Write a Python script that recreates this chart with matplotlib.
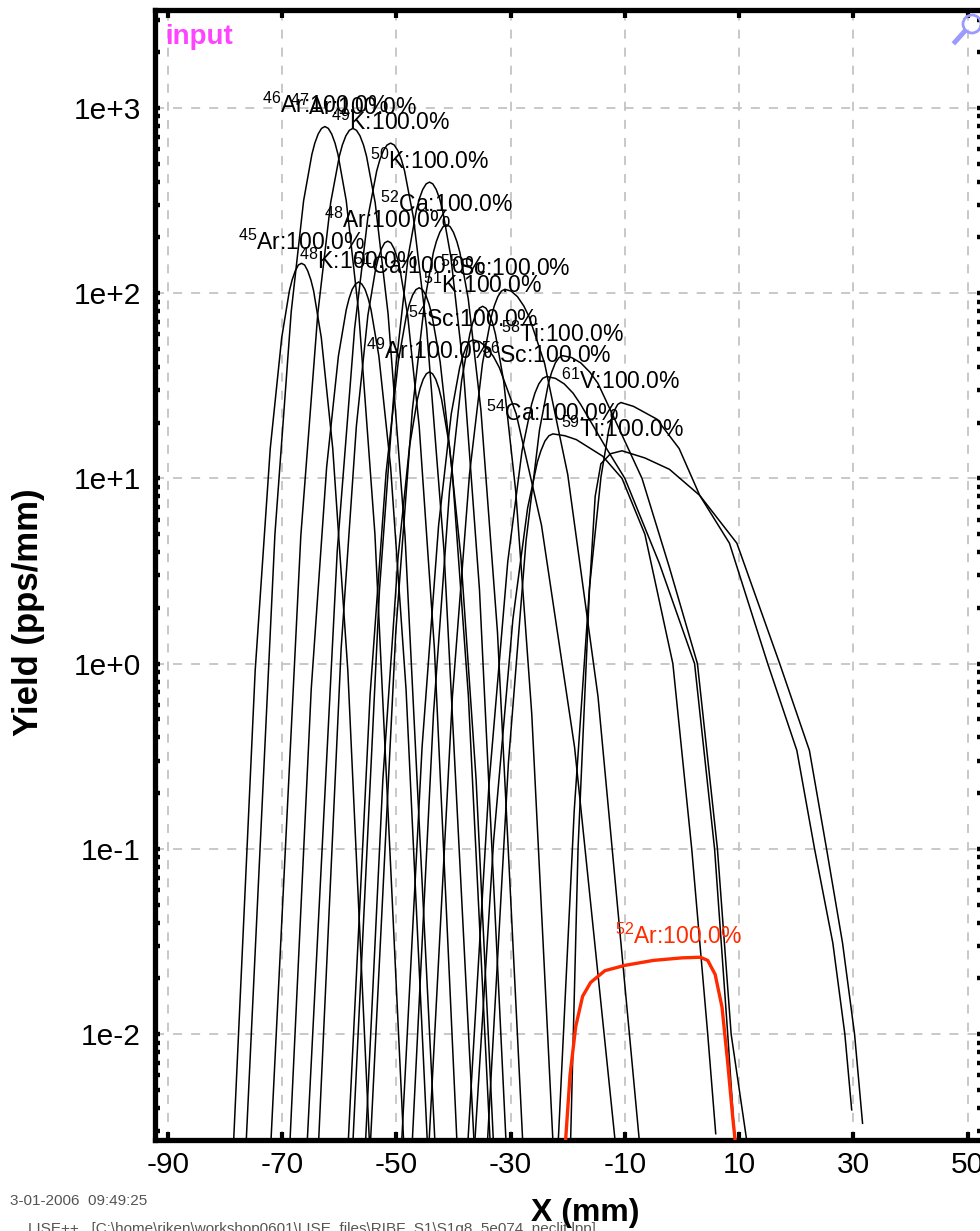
import matplotlib
matplotlib.use("Agg")
import matplotlib.pyplot as plt
from matplotlib.patches import Ellipse
from matplotlib.lines import Line2D
from matplotlib.ticker import LogLocator, NullFormatter

plt.rcParams['font.family'] = ['Liberation Sans', 'DejaVu Sans']
plt.rcParams['mathtext.fontset'] = 'custom'
plt.rcParams['mathtext.rm'] = 'Liberation Sans'
plt.rcParams['axes.unicode_minus'] = False

# fragment distributions at the focal plane: X (mm) vs yield (pps/mm)
X_45AR = [-78.66, -74.71, -72.07, -70.06, -68.72, -68.24, -67.69, -67.15, -66.6,
          -66.05, -65.51, -64.96, -64.48, -63.14, -61.13, -58.49, -54.54]
Y_45AR = [0.002, 0.915, 14.5, 57.7, 103, 118, 132, 142, 145, 142, 132, 118, 103, 57.7, 14.5, 0.915, 0.002]
X_46AR = [-76.46, -71.25, -68.4, -66.23, -64.78, -64.27, -63.68, -63.09, -62.5,
          -61.91, -61.32, -60.73, -60.22, -58.77, -56.6, -53.75, -48.54]
Y_46AR = [0.002, 5.01, 79.4, 316, 562, 646, 724, 776, 794, 776, 724, 646, 562, 316, 79.4, 5.01, 0.002]
X_47AR = [-72.14, -66.72, -63.75, -61.49, -59.98, -59.45, -58.83, -58.22, -57.6,
          -56.98, -56.37, -55.75, -55.22, -53.71, -51.45, -48.48, -43.06]
Y_47AR = [0.002, 4.9, 77.6, 309, 549, 631, 708, 758, 776, 758, 708, 631, 549, 309, 77.6, 4.9, 0.002]
X_48K = [-68.8, -64.9, -62.2, -60.14, -58.77, -58.28, -57.72, -57.16, -56.6,
         -56.04, -55.48, -54.92, -54.43, -53.06, -51.0, -48.3, -44.4]
Y_48K = [0.002, 0.726, 11.5, 45.8, 81.4, 93.5, 105, 112, 115, 112, 105, 93.5, 81.4, 45.8, 11.5, 0.726, 0.002]
X_49K = [-65.79, -60.34, -57.3, -54.98, -53.44, -52.89, -52.26, -51.63, -51.0,
         -50.37, -49.74, -49.11, -48.56, -47.02, -44.7, -41.66, -36.21]
Y_49K = [0.002, 4.08, 64.6, 257, 457, 525, 589, 631, 646, 631, 589, 525, 457, 257, 64.6, 4.08, 0.002]
X_48AR = [-63.78, -59.66, -57.0, -54.98, -53.63, -53.15, -52.6, -52.05, -51.5,
          -50.95, -50.4, -49.85, -49.37, -48.02, -46.0, -43.34, -39.22]
Y_48AR = [0.002, 1.21, 19.1, 76.0, 135, 155, 174, 187, 191, 187, 174, 155, 135, 76.0, 19.1, 1.21, 0.002]
X_50K = [-57.78, -52.95, -50.1, -47.93, -46.48, -45.97, -45.38, -44.79, -44.2,
         -43.61, -43.02, -42.43, -41.92, -40.47, -38.3, -35.45, -30.62]
Y_50K = [0.002, 2.51, 39.8, 158, 282, 324, 363, 389, 398, 389, 363, 324, 282, 158, 39.8, 2.51, 0.002]
X_52CA = [-54.71, -50.1, -47.2, -44.99, -43.52, -43.0, -42.4, -41.8, -41.2,
          -40.6, -40.0, -39.4, -38.88, -37.41, -35.2, -32.3, -27.69]
Y_52CA = [0.002, 1.48, 23.4, 93.1, 166, 190, 213, 229, 234, 229, 213, 190, 166, 93.1, 23.4, 1.48, 0.002]
X_49AR = [-55.57, -52.36, -49.7, -47.68, -46.33, -45.85, -45.3, -44.75, -44.2,
          -43.65, -43.1, -42.55, -42.07, -40.72, -38.7, -36.04, -32.83]
Y_49AR = [0.002, 0.237, 3.76, 15.0, 26.6, 30.6, 34.3, 36.7, 37.6, 36.7, 34.3, 30.6, 26.6, 15.0, 3.76, 0.237, 0.002]
X_51CA = [-58.6, -54.6, -51.8, -49.67, -48.24, -47.74, -47.16, -46.58, -46.0,
          -45.42, -44.84, -44.26, -43.76, -42.33, -40.2, -37.4, -33.4]
Y_51CA = [0.002, 0.675, 10.7, 42.6, 75.8, 87.0, 97.6, 104.5, 107, 104.5, 97.6, 87.0, 75.8, 42.6, 10.7, 0.675, 0.002]
X_51K = [-47.4, -43.5, -40.7, -38.57, -37.14, -36.64, -36.06, -35.48, -34.9,
         -34.32, -33.74, -33.16, -32.66, -31.23, -29.1, -26.3, -22.4]
Y_51K = [0.002, 0.536, 8.5, 33.8, 60.2, 69.1, 77.5, 83.0, 85, 83.0, 77.5, 69.1, 60.2, 33.8, 8.5, 0.536, 0.002]
X_55SC = [-44.47, -40.19, -37.2, -34.92, -33.4, -32.86, -32.24, -31.62, -31.0,
          -29.9, -28.8, -27.7, -26.74, -24.05, -20.0, -14.7, -7.1]
Y_55SC = [0.002, 0.663, 10.5, 41.8, 74.3, 85.4, 95.8, 102.6, 105, 102.6, 95.8, 85.4, 74.3, 41.8, 10.5, 0.663, 0.002]
X_54SC = [-49.26, -45.5, -42.6, -40.39, -38.92, -38.4, -37.8, -37.2, -36.6,
          -35.4, -34.2, -33.0, -31.96, -29.02, -24.6, -18.8, -11.3]
Y_54SC = [0.002, 0.353, 5.6, 22.3, 39.6, 45.5, 51.1, 54.7, 56, 54.7, 51.1, 45.5, 39.6, 22.3, 5.6, 0.353, 0.002]
X_58TI = [-34.26, -30.39, -27.3, -24.94, -23.38, -22.82, -22.18, -21.54, -20.9,
          -19.3, -17.7, -16.1, -14.71, -11.5, -7.0, -2.2, 2.7, 6.2, 8.6, 11.3]
Y_58TI = [0.002, 0.29, 4.6, 18.3, 32.6, 37.4, 42.0, 44.9, 46,
          44.9, 42.0, 37.4, 32.6, 20, 10, 3.3, 1.0, 0.1, 0.01, 0.0027]
X_56SC = [-37.7, -33.78, -30.5, -28.0, -26.33, -25.74, -25.06, -24.38, -23.7,
          -22.16, -20.62, -19.08, -17.74, -13.5, -10.0, -4.0, 2.2, 5.7, 8.0, 9.3]
Y_56SC = [0.002, 0.224, 3.55, 14.1, 25.1, 28.9, 32.4, 34.7, 35.5,
          34.7, 32.4, 28.9, 25.1, 15, 10, 3.5, 1.0, 0.1, 0.01, 0.0025]
X_54CA = [-36.5, -32.98, -29.6, -27.02, -25.31, -24.7, -24.0, -23.3, -22.6,
          -20.5, -18.5, -13.9, -10.5, -6.5, -1.6, 1.7, 4.5, 5.9]
Y_54CA = [0.002, 0.11, 1.74, 6.93, 12.3, 14.1, 15.9, 17.0, 17.4,
          17.0, 16.2, 13.2, 10, 5.0, 1.0, 0.1, 0.01, 0.0029]
X_61V = [-21.85, -18.86, -16.2, -14.18, -12.83, -12.35, -11.8, -11.25, -10.7,
         -8.5, -4.4, -0.5, 3.1, 8.3, 15.0, 20.1, 23.2, 26.4, 28.5, 29.7]
Y_61V = [0.002, 0.162, 2.57, 10.2, 18.2, 20.9, 23.4, 25.1, 25.7,
         24.5, 20.9, 14.5, 8.1, 4.47, 1.0, 0.34, 0.1, 0.031, 0.01, 0.0039]
X_59TI = [-19.6, -18.2, -17.2, -16.2, -15.2, -14.2, -12.5, -10.5, -6.5,
          -2.2, 3.1, 9.6, 17.1, 22.3, 25.3, 28.1, 30.2, 31.6]
Y_59TI = [0.002, 0.1, 0.5, 2.5, 8.0, 12.0, 13.6, 14.1, 12.9,
          11.2, 8.1, 4.47, 1.0, 0.34, 0.1, 0.031, 0.01, 0.0033]
X_52AR = [-20.4, -19.6, -18.6, -17.4, -16.0, -13.5, -10.0, -5.0, 0.0, 3.2, 4.5, 5.8, 7.0, 8.0, 8.9, 9.4]
Y_52AR = [0.0026, 0.006, 0.011, 0.016, 0.019, 0.022, 0.0235, 0.025, 0.0258, 0.026, 0.025, 0.021, 0.014, 0.007, 0.0035, 0.0025]

black_curves = [
    ("46", "Ar", X_46AR, Y_46AR), ("47", "Ar", X_47AR, Y_47AR),
    ("49", "K", X_49K, Y_49K), ("50", "K", X_50K, Y_50K),
    ("52", "Ca", X_52CA, Y_52CA), ("48", "Ar", X_48AR, Y_48AR),
    ("45", "Ar", X_45AR, Y_45AR), ("48", "K", X_48K, Y_48K),
    ("51", "Ca", X_51CA, Y_51CA), ("55", "Sc", X_55SC, Y_55SC),
    ("51", "K", X_51K, Y_51K), ("54", "Sc", X_54SC, Y_54SC),
    ("58", "Ti", X_58TI, Y_58TI), ("49", "Ar", X_49AR, Y_49AR),
    ("56", "Sc", X_56SC, Y_56SC), ("61", "V", X_61V, Y_61V),
    ("54", "Ca", X_54CA, Y_54CA), ("59", "Ti", X_59TI, Y_59TI),
]
red_curve = ("52", "Ar", X_52AR, Y_52AR)

X_TICKS = [-90, -70, -50, -30, -10, 10, 30, 50]
Y_TICKS = [1e-2, 1e-1, 1e0, 1e1, 1e2, 1e3]
Y_TICK_LABELS = ["1e-2", "1e-1", "1e+0", "1e+1", "1e+2", "1e+3"]

fig = plt.figure(figsize=(9.8, 12.31), dpi=100)
ax = fig.add_axes([0.158, 0.0739, 0.844, 0.918])


def draw_curve(mass, elem, xs, ys, color, lw, dx=0):
    ax.plot(xs, ys, color=color, lw=lw, zorder=3)
    i = max(range(len(ys)), key=lambda k: ys[k])
    ax.annotate(r"$\mathregular{^{%s}}$%s:100.0%%" % (mass, elem),
                xy=(xs[i], ys[i]), xytext=(dx, 21), textcoords="offset pixels",
                ha="center", va="center", fontsize=16.5, color=color, zorder=4)


for mass, elem, xs, ys in black_curves:
    draw_curve(mass, elem, xs, ys, "black", 1.1)
draw_curve(*red_curve, "#ff2a00", 2.4, dx=-22)

ax.set_yscale("log")
ax.set_xlim(-92.27, 52.5)
ax.set_ylim(0.00268, 3382)
ax.set_xticks(X_TICKS)
ax.set_yticks(Y_TICKS, labels=Y_TICK_LABELS)
ax.yaxis.set_minor_locator(LogLocator(base=10, subs=range(2, 10), numticks=20))
ax.yaxis.set_minor_formatter(NullFormatter())

ax.grid(True, which="major", color="#c4c4c4", linestyle=(0, (5, 5)), lw=1.3)
ax.set_axisbelow(True)
ax.tick_params(axis="x", which="major", direction="in", length=6, width=3,
               top=True, labelsize=21.5, pad=8)
ax.tick_params(axis="y", which="both", direction="in", length=3.5, width=3.2,
               right=True, labelsize=21.5, pad=10)
for side in ["left", "top", "bottom", "right"]:
    ax.spines[side].set_linewidth(3.8)

fig.text(0.029, 0.503, "Yield (pps/mm)", rotation=90, ha="center", va="center",
         fontsize=25, fontweight="bold")
fig.text(0.597, 0.0146, "X (mm)", ha="center", va="center", fontsize=23, fontweight="bold")
fig.text(165 / 980, 1 - 37 / 1231, "input", color="#ff44ff", fontsize=20,
         fontweight="bold", ha="left", va="center")
fig.text(10 / 980, 1 - 1201 / 1231, "3-01-2006  09:49:25", color="#555555",
         fontsize=11, ha="left", va="center")
fig.text(28 / 980, 1 - 1222 / 1231,
         r"LISE++   [C:\home\riken\workshop0601\LISE_files\RIBF_S1\S1g8_5e074_neclit.lpp]",
         color="#555555", fontsize=11, ha="left", va="top")

# zoom icon in the upper right corner
fig.add_artist(Ellipse((972 / 980, 1 - 24 / 1231), 18 / 980, 18 / 1231,
                       transform=fig.transFigure, fill=False, ec="#9a9aff", lw=2))
fig.add_artist(Line2D([964 / 980, 955 / 980], [1 - 32 / 1231, 1 - 42 / 1231],
                      transform=fig.transFigure, color="#9a9aff", lw=3.5))

fig.savefig("out.png", dpi=100)
